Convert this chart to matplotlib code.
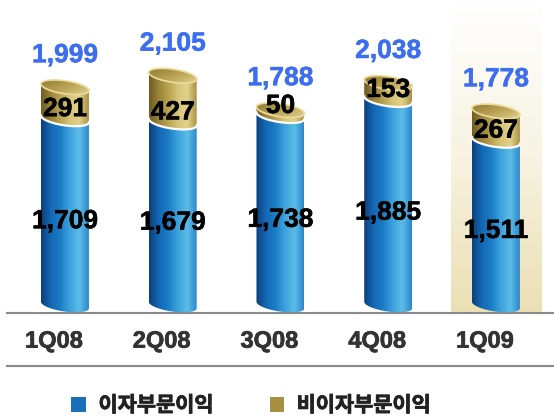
import numpy as np
import matplotlib.pyplot as plt
import matplotlib.patheffects as pe
import matplotlib.transforms as mtrans
from matplotlib.path import Path
from matplotlib.patches import PathPatch, Patch
from matplotlib.colors import LinearSegmentedColormap
from matplotlib.lines import Line2D

plt.rcParams['font.family'] = ['Liberation Sans', 'Noto Sans CJK KR', 'DejaVu Sans']

# data
quarters = ['1Q08', '2Q08', '3Q08', '4Q08', '1Q09']
interest = [1709, 1679, 1738, 1885, 1511]
non_interest = [291, 427, 50, 153, 267]
totals = [1999, 2105, 1788, 2038, 1778]
series_names = ['이자부문이익', '비이자부문이익']
highlight = '1Q09'

W = 0.445   # cylinder width
B = 60      # ellipse half height (data units)
S = 30      # tilt of the ellipses

blue_cmap = LinearSegmentedColormap.from_list('blue', ['#0b3f7a', '#1467b3', '#1b7cc6', '#3da2dc', '#5cbde9', '#2a88cb'])
gold_cmap = LinearSegmentedColormap.from_list('gold', ['#6e5c22', '#9a8439', '#b8a150', '#d6c477', '#e2d28a', '#a89043'])
cap_cmap = LinearSegmentedColormap.from_list('cap', ['#8c7632', '#b9a153', '#e6d695'])
bg_cmap = LinearSegmentedColormap.from_list('bg', ['#ffffff', '#f8f3e2', '#ebdfb3'])

heavy = [pe.withStroke(linewidth=0.35, foreground='black')]


def ellipse_pts(cx, cy, t):
    a = W / 2
    return cx + a * np.cos(t), cy + B * np.sin(t) - S * np.cos(t)


def body_path(cx, y0, y1):
    t = np.linspace(np.pi, 2 * np.pi, 60)
    x0, yb = ellipse_pts(cx, y0, t)
    x1, yt = ellipse_pts(cx, y1, t[::-1])
    verts = np.column_stack([np.r_[x0, x1], np.r_[yb, yt]])
    return Path(np.vstack([verts, verts[:1]]))


def grad_fill(ax, path, img, cmap, ext, z):
    patch = PathPatch(path, fc='none', ec='none')
    ax.add_patch(patch)
    im = ax.imshow(img, cmap=cmap, extent=ext, aspect='auto', zorder=z,
                   interpolation='bicubic', origin='lower')
    im.set_clip_path(patch)


fig = plt.figure(figsize=(5.54, 4.18), dpi=100)
ax = fig.add_axes([7 / 554, 105 / 418, 547 / 554, 313 / 418])
ymin, ymax = -73, 2800
hgrad = np.linspace(0, 1, 256)[None, :]

x = np.arange(len(quarters))
for i, q in enumerate(quarters):
    cx = x[i]
    ext = [cx - W / 2, cx + W / 2, -200, totals[i] + 200]
    # blue body
    grad_fill(ax, body_path(cx, 0, interest[i]), hgrad, blue_cmap, ext, 3)
    # gold body
    grad_fill(ax, body_path(cx, interest[i], totals[i]), hgrad, gold_cmap, ext, 3)
    # white seam between the two parts
    t = np.linspace(np.pi, 2 * np.pi, 60)
    sx, sy = ellipse_pts(cx, interest[i], t)
    ax.plot(sx, sy, color='white', lw=1.6, zorder=4)
    # top cap
    t = np.linspace(0, 2 * np.pi, 120)
    px, py = ellipse_pts(cx, totals[i], t)
    cap = Path(np.column_stack([px, py]))
    yy, xx = np.mgrid[0:1:64j, 0:1:64j]
    grad_fill(ax, cap, (xx + (1 - yy)) / 2, cap_cmap,
              [cx - W / 2, cx + W / 2, totals[i] - B - S, totals[i] + B + S], 5)
    ax.plot(px, py, color='#ecdc9c', lw=1.2, zorder=6)

    # labels
    ax.annotate(f'{totals[i]:,}', (cx, totals[i] + B + S), xytext=(0, 16),
                textcoords='offset points', ha='center', va='center',
                fontsize=19, fontweight='bold', color='#3d6ef0', zorder=8,
                path_effects=[pe.withStroke(linewidth=0.35, foreground='#3d6ef0')])
    ax.annotate(f'{non_interest[i]:,}', (cx, interest[i]), xytext=(0, 7),
                textcoords='offset points', ha='center', va='center',
                fontsize=19, fontweight='bold', color='black', zorder=8,
                path_effects=heavy)
    ax.text(cx, interest[i] * 0.45, f'{interest[i]:,}', ha='center', va='center',
            fontsize=19, fontweight='bold', color='black', zorder=8,
            path_effects=heavy)

# highlighted quarter background
hi = quarters.index(highlight)
ax.imshow(np.linspace(1, 0, 256)[:, None], cmap=bg_cmap, aspect='auto',
          extent=[hi - 0.42, hi + 0.42, ymin, ymax], zorder=0, origin='lower')

ax.set_xlim(-0.538, 4.539)
ax.set_ylim(ymin, ymax)
ax.set_xticks(x)
ax.set_xticklabels(quarters, fontsize=17, fontweight='bold', color='#333333')
ax.tick_params(axis='x', length=0, pad=12)
shift = mtrans.ScaledTranslation(-11 / 100, 0, fig.dpi_scale_trans)
for lab in ax.get_xticklabels():
    lab.set_transform(lab.get_transform() + shift)
    lab.set_path_effects([pe.withStroke(linewidth=0.5, foreground='#333333')])
ax.set_yticks([])
for s in ['left', 'right', 'top']:
    ax.spines[s].set_visible(False)
ax.spines['bottom'].set_color('#8a8a8a')
ax.spines['bottom'].set_linewidth(1.5)
ax.spines['bottom'].set_zorder(10)

fig.add_artist(Line2D([7 / 554, 1], [52 / 418, 52 / 418], color='#8a8a8a', lw=1.5))

handles = [Patch(facecolor='#1a70b8', edgecolor='none'),
           Patch(facecolor='#a89043', edgecolor='none')]
leg = fig.legend(handles, series_names, loc='center', bbox_to_anchor=(0.453, 13 / 418),
                 ncol=2, frameon=False, handlelength=0.7, handleheight=0.7,
                 handletextpad=0.6, columnspacing=2.7,
                 prop={'family': ['Noto Sans CJK KR'], 'weight': 'bold', 'size': 15})
for t in leg.get_texts():
    t.set_color('#222222')
    t.set_path_effects([pe.withStroke(linewidth=0.6, foreground='#222222')])

fig.savefig('out.png', dpi=100)
